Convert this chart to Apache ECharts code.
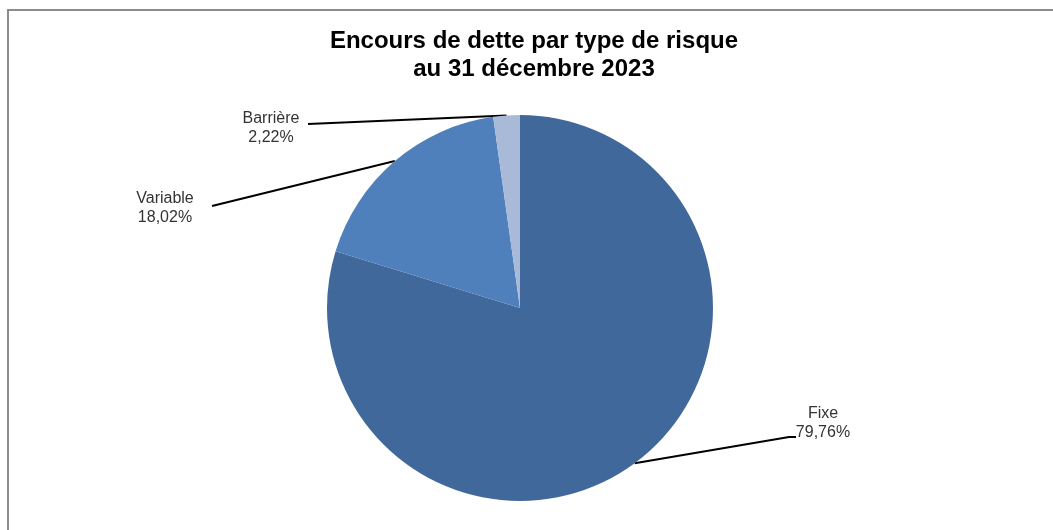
<!DOCTYPE html>
<html>
<head>
<meta charset="utf-8">
<script src="https://cdn.jsdelivr.net/npm/echarts@6/dist/echarts.min.js"></script>
<style>
  html, body { margin: 0; padding: 0; background: #fff; }
  #chart { width: 1053px; height: 530px; }
</style>
</head>
<body>
<div id="chart"></div>
<script>
// Data
const categories = ['Fixe', 'Variable', 'Barrière'];
const shares = [79.76, 18.02, 2.22];
const colors = ['#41689B', '#4F80BC', '#A9B9D8'];
const titleLines = ['Encours de dette par type de risque', 'au 31 décembre 2023'];

// Label placement (layout only): text centre and line end
const labelAnchors = [
  { x: 823, y: 423, lineEnd: [789, 437], lineEnd2: [796, 437] },
  { x: 165, y: 208, lineEnd: [212, 206] },
  { x: 271, y: 128, lineEnd: [308, 124] }
];

const chart = echarts.init(document.getElementById('chart'), null, { renderer: 'canvas' });

const option = {
  backgroundColor: '#ffffff',
  animation: false,
  title: {
    text: titleLines.join('\n'),
    left: 529,
    textAlign: 'center',
    top: 22,
    textStyle: {
      fontFamily: 'Liberation Sans, Arial, sans-serif',
      fontSize: 24,
      fontWeight: 'bold',
      color: '#000',
      lineHeight: 28
    }
  },
  graphic: [{
    type: 'rect',
    shape: { x: 8, y: 10, width: 1200, height: 700 },
    style: { fill: 'none', stroke: '#8c8c8c', lineWidth: 2 },
    silent: true,
    z: -1
  }],
  series: [{
    type: 'pie',
    center: [520, 308],
    radius: 193,
    startAngle: 90,
    clockwise: true,
    data: categories.map((c, i) => ({ name: c, value: shares[i], itemStyle: { color: colors[i] } })),
    itemStyle: { borderWidth: 0 },
    label: {
      show: true,
      position: 'outside',
      fontFamily: 'Liberation Sans, Arial, sans-serif',
      fontSize: 16,
      color: '#333333',
      lineHeight: 19,
      align: 'center',
      formatter: p => p.name + '\n' + p.value.toFixed(2).replace('.', ',') + '%'
    },
    labelLine: {
      show: true,
      length: 20,
      length2: 20,
      lineStyle: { color: '#000', width: 2 }
    },
    labelLayout: function (params) {
      const a = labelAnchors[params.dataIndex];
      const start = params.labelLinePoints ? params.labelLinePoints[0] : null;
      const pts = [start, a.lineEnd];
      if (a.lineEnd2) pts.push(a.lineEnd2);
      const res = {
        x: a.x,
        y: a.y,
        align: 'center',
        verticalAlign: 'middle'
      };
      if (start) res.labelLinePoints = pts;
      return res;
    }
  }]
};
chart.setOption(option);
</script>
</body>
</html>
